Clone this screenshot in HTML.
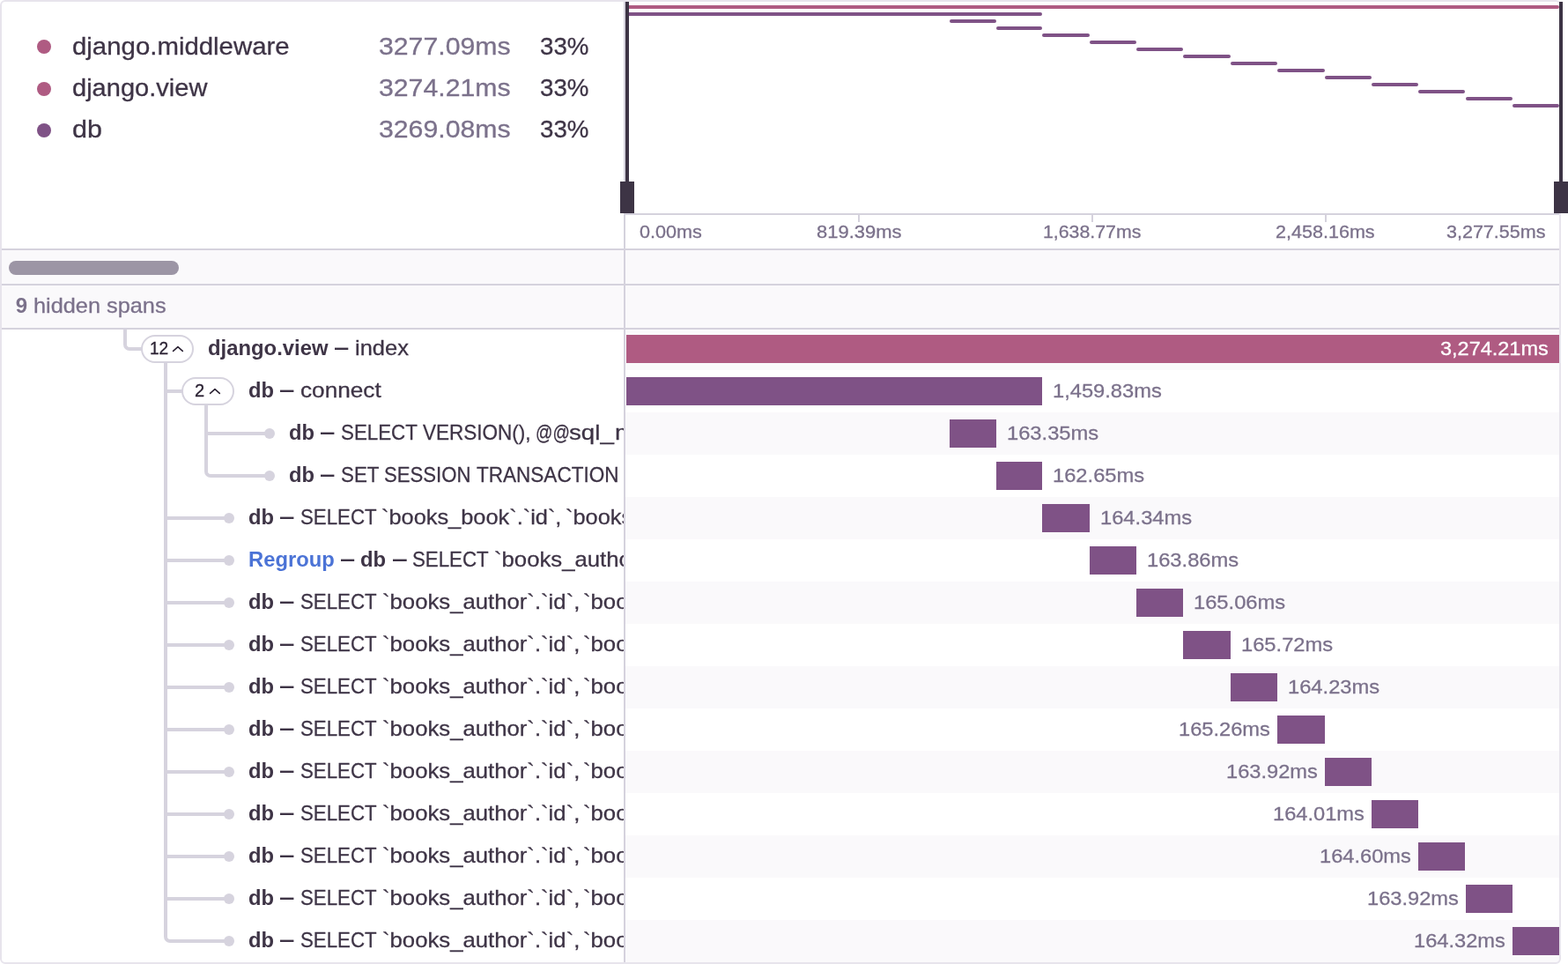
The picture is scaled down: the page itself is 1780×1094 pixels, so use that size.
<!DOCTYPE html>
<html lang="en">
<head>
<meta charset="utf-8">
<title>Trace view</title>
<style>
*{box-sizing:border-box}
html,body{margin:0;padding:0;background:#fff}
body{width:1780px;height:1094px;overflow:hidden;position:relative;font-family:'Liberation Sans', sans-serif;color:#3e3446;-webkit-font-smoothing:antialiased}
.trace{position:absolute;left:0;top:0;width:1772px;height:1094px;background:#fff;border-radius:6px}
.frame{position:absolute;left:0;top:0;width:1772px;height:1094px;border:2px solid #e7e4ec;border-radius:6px;pointer-events:none;z-index:5}
.t{position:absolute;white-space:pre;font-weight:400;display:block;transform-origin:0 50%;-webkit-text-stroke:0.3px currentColor}
strong.t{font-weight:700;-webkit-text-stroke:0}
.abs{position:absolute}
.legend{position:absolute;left:2px;top:2px;width:706px;height:280px;overflow:hidden}
.dot{position:absolute;width:16px;height:16px;border-radius:50%}
.minimap{position:absolute;left:710px;top:2px;width:1060px;height:240px;background:#fff}
.mbar{position:absolute;height:4px;border-radius:2px}
.hline{position:absolute;height:2px;background:#d5d2dd}
.vline{position:absolute;width:2px;background:#d5d2dd}
.handle-line{position:absolute;width:4px;background:#3d3445}
.handle{position:absolute;width:16px;height:36px;background:#3d3445}
.tick{position:absolute;width:2px;height:8px;top:244px;background:#d5d2dd}
.band{position:absolute;left:2px;width:1768px;background:#faf9fb}
.thumb{position:absolute;left:10px;top:296px;width:193px;height:16px;border-radius:8px;background:#9c95a5}
.row{position:absolute;left:2px;width:1768px;height:48px}
.row .l{position:absolute;left:0;top:0;width:706px;height:48px;overflow:hidden;background:#fff}
.row .r{position:absolute;left:708px;top:0;width:1060px;height:48px;overflow:hidden}
.row.odd .r{background:#faf9fb}
.bar{position:absolute;top:8px;height:32px}
.tree{position:absolute;background:#d6d3de}
.conn{position:absolute;border:0 solid #d6d3de}
.node{position:absolute;width:12px;height:12px;border-radius:50%;background:#d6d3de}
.pill{position:absolute;width:60px;height:32px;border:2px solid #d6d3de;border-radius:16px;background:#fff}
.pill svg{position:absolute;left:0;top:0}
</style>
</head>
<body>
<div class="trace">
<div class="legend">
<div class="lrow"><span class="dot" style="left:40px;top:43.0px;background:#af5b82"></span>
<span class="t" style="left:79.95px;top:37.00px;font-size:28px;line-height:28px;color:#3e3446;transform:scaleX(1.0494);">django.middleware</span> <span class="t" style="left:428.42px;top:37.00px;font-size:28px;line-height:28px;color:#7b718b;transform:scaleX(1.0796);">3277.09ms</span> <span class="t" style="left:610.91px;top:37.00px;font-size:28px;line-height:28px;color:#3e3446;transform:scaleX(0.9889);">33%</span></div>
<div class="lrow"><span class="dot" style="left:40px;top:91.0px;background:#af5b82"></span>
<span class="t" style="left:79.96px;top:84.00px;font-size:28px;line-height:28px;color:#3e3446;transform:scaleX(1.0374);">django.view</span> <span class="t" style="left:428.42px;top:84.00px;font-size:28px;line-height:28px;color:#7b718b;transform:scaleX(1.0796);">3274.21ms</span> <span class="t" style="left:610.91px;top:84.00px;font-size:28px;line-height:28px;color:#3e3446;transform:scaleX(0.9889);">33%</span></div>
<div class="lrow"><span class="dot" style="left:40px;top:138.0px;background:#7f5286"></span>
<span class="t" style="left:79.91px;top:131.00px;font-size:28px;line-height:28px;color:#3e3446;transform:scaleX(1.0897);">db</span> <span class="t" style="left:428.42px;top:131.00px;font-size:28px;line-height:28px;color:#7b718b;transform:scaleX(1.0796);">3269.08ms</span> <span class="t" style="left:610.91px;top:131.00px;font-size:28px;line-height:28px;color:#3e3446;transform:scaleX(0.9889);">33%</span></div>
</div>
<div class="minimap">
<span class="mbar" style="left:1px;width:1059px;top:4px;background:#af5b82"></span>
<span class="mbar" style="left:1px;width:472px;top:12px;background:#7f5286"></span>
<span class="mbar" style="left:368px;width:53px;top:20px;background:#7f5286"></span>
<span class="mbar" style="left:421px;width:52px;top:28px;background:#7f5286"></span>
<span class="mbar" style="left:473px;width:54px;top:36px;background:#7f5286"></span>
<span class="mbar" style="left:527px;width:53px;top:44px;background:#7f5286"></span>
<span class="mbar" style="left:580px;width:53px;top:52px;background:#7f5286"></span>
<span class="mbar" style="left:633px;width:54px;top:60px;background:#7f5286"></span>
<span class="mbar" style="left:687px;width:53px;top:68px;background:#7f5286"></span>
<span class="mbar" style="left:740px;width:54px;top:76px;background:#7f5286"></span>
<span class="mbar" style="left:794px;width:53px;top:84px;background:#7f5286"></span>
<span class="mbar" style="left:847px;width:53px;top:92px;background:#7f5286"></span>
<span class="mbar" style="left:900px;width:53px;top:100px;background:#7f5286"></span>
<span class="mbar" style="left:954px;width:53px;top:108px;background:#7f5286"></span>
<span class="mbar" style="left:1007px;width:53px;top:116px;background:#7f5286"></span>
</div>
<div class="hline" style="left:710px;top:242px;width:1060px"></div>
<span class="tick" style="left:974px"></span>
<span class="tick" style="left:1239px"></span>
<span class="tick" style="left:1504px"></span>
<div class="axis"><span class="t" style="left:725.62px;top:253.00px;font-size:20px;line-height:20px;color:#7b718b;transform:scaleX(1.0797);">0.00ms</span> <span class="t" style="left:927.20px;top:253.00px;font-size:20px;line-height:20px;color:#7b718b;transform:scaleX(1.0977);">819.39ms</span> <span class="t" style="left:1184.43px;top:253.00px;font-size:20px;line-height:20px;color:#7b718b;transform:scaleX(1.0650);">1,638.77ms</span> <span class="t" style="left:1448.42px;top:253.00px;font-size:20px;line-height:20px;color:#7b718b;transform:scaleX(1.0777);">2,458.16ms</span> <span class="t" style="left:1641.92px;top:253.00px;font-size:20px;line-height:20px;color:#7b718b;transform:scaleX(1.0757);">3,277.55ms</span></div>
<div class="band" style="top:284px;height:88px"></div>
<div class="hline" style="left:2px;top:282px;width:1768px"></div>
<div class="hline" style="left:2px;top:322px;width:1768px"></div>
<div class="thumb"></div>
<div class="hidden"><strong class="t" style="left:17.70px;top:335.00px;font-size:24px;line-height:24px;font-weight:700;color:#7b718b;">9</strong> <span class="t" style="left:37.59px;top:335.00px;font-size:24px;line-height:24px;color:#7b718b;transform:scaleX(1.0543);">hidden spans</span></div>
<div class="row odd" style="top:372px"><div class="l"><span class="conn" style="left:138px;top:0;width:22px;height:26px;border-left-width:4px;border-bottom-width:4px;border-bottom-left-radius:7px"></span>
<span class="tree" style="left:184px;top:40px;width:4px;height:8px"></span>
<span class="pill" style="left:158px;top:8px"><svg width="60" height="32" viewBox="0 0 60 32" style="left:-2px;top:-2px"><polyline points="36.6,18.4 41.95,13.7 47.3,18.4" fill="none" stroke="#2b2233" stroke-width="1.6" stroke-linecap="round" stroke-linejoin="round"/></svg></span>
<span class="t" style="left:168.14px;top:13.00px;font-size:20px;line-height:20px;color:#2b2233;transform:scaleX(0.9550);">12</span>
<span class="title"><strong class="t" style="left:233.81px;top:11.00px;font-size:24px;line-height:24px;font-weight:700;color:#3e3446;transform:scaleX(0.9934);">django.view</strong> <strong class="t" style="left:378.40px;top:10.00px;font-size:24px;line-height:24px;font-weight:700;color:#3e3446;transform:scaleX(0.6375);">—</strong> <span class="t" style="left:400.74px;top:11.00px;font-size:24px;line-height:24px;color:#3e3446;transform:scaleX(1.0607);">index</span></span></div>
<div class="r"><span class="bar" style="left:1px;width:1059px;background:#af5b82"></span>
<span class="t" style="left:924.93px;top:13.00px;font-size:22px;line-height:22px;color:#ffffff;transform:scaleX(1.0673);">3,274.21ms</span></div></div>
<div class="row even" style="top:420px"><div class="l"><span class="tree" style="left:184px;top:0;width:4px;height:48px"></span>
<span class="tree" style="left:188px;top:22px;width:17px;height:4px"></span>
<span class="tree" style="left:230px;top:40px;width:4px;height:8px"></span>
<span class="pill" style="left:204px;top:8px"><svg width="60" height="32" viewBox="0 0 60 32" style="left:-2px;top:-2px"><polyline points="32.6,18.4 37.95,13.7 43.3,18.4" fill="none" stroke="#2b2233" stroke-width="1.6" stroke-linecap="round" stroke-linejoin="round"/></svg></span>
<span class="t" style="left:218.90px;top:13.00px;font-size:20px;line-height:20px;color:#2b2233;">2</span>
<span class="title"><strong class="t" style="left:279.71px;top:11.00px;font-size:24px;line-height:24px;font-weight:700;color:#3e3446;transform:scaleX(0.9893);">db</strong> <strong class="t" style="left:316.30px;top:10.00px;font-size:24px;line-height:24px;font-weight:700;color:#3e3446;transform:scaleX(0.6417);">—</strong> <span class="t" style="left:338.91px;top:11.00px;font-size:24px;line-height:24px;color:#3e3446;transform:scaleX(1.0904);">connect</span></span></div>
<div class="r"><span class="bar" style="left:1px;width:472px;background:#7f5286"></span>
<span class="t" style="left:485.35px;top:13.00px;font-size:22px;line-height:22px;color:#7b718b;transform:scaleX(1.0768);">1,459.83ms</span></div></div>
<div class="row odd" style="top:468px"><div class="l"><span class="tree" style="left:184px;top:0;width:4px;height:48px"></span>
<span class="tree" style="left:230px;top:0;width:4px;height:48px"></span>
<span class="tree" style="left:234px;top:22px;width:66px;height:4px"></span>
<span class="node" style="left:298px;top:18px"></span>
<span class="title"><strong class="t" style="left:325.81px;top:11.00px;font-size:24px;line-height:24px;font-weight:700;color:#3e3446;transform:scaleX(0.9893);">db</strong> <strong class="t" style="left:362.40px;top:10.00px;font-size:24px;line-height:24px;font-weight:700;color:#3e3446;transform:scaleX(0.6417);">—</strong> <span class="t" style="left:384.77px;top:11.00px;font-size:24px;line-height:24px;color:#3e3446;transform:scaleX(0.9304);">SELECT</span> <span class="t" style="left:478.40px;top:11.00px;font-size:24px;line-height:24px;color:#3e3446;transform:scaleX(0.9380);">VERSION(),</span> <span class="t" style="left:606.01px;top:11.00px;font-size:24px;line-height:24px;color:#3e3446;transform:scaleX(0.7956);">@@</span>
<span class="t" style="left:643.65px;top:11.00px;font-size:24px;line-height:24px;color:#3e3446;transform:scaleX(1.1535);">sql_</span>
<span class="t" style="left:696.29px;top:11.00px;font-size:24px;line-height:24px;color:#3e3446;transform:scaleX(1.1535);">mode</span></span></div>
<div class="r"><span class="bar" style="left:368px;width:53px;background:#7f5286"></span>
<span class="t" style="left:433.34px;top:13.00px;font-size:22px;line-height:22px;color:#7b718b;transform:scaleX(1.0777);">163.35ms</span></div></div>
<div class="row even" style="top:516px"><div class="l"><span class="tree" style="left:184px;top:0;width:4px;height:48px"></span>
<span class="conn" style="left:230px;top:0;width:70px;height:26px;border-left-width:4px;border-bottom-width:4px;border-bottom-left-radius:7px"></span>
<span class="node" style="left:298px;top:18px"></span>
<span class="title"><strong class="t" style="left:325.81px;top:11.00px;font-size:24px;line-height:24px;font-weight:700;color:#3e3446;transform:scaleX(0.9893);">db</strong> <strong class="t" style="left:362.40px;top:10.00px;font-size:24px;line-height:24px;font-weight:700;color:#3e3446;transform:scaleX(0.6417);">—</strong> <span class="t" style="left:384.77px;top:11.00px;font-size:24px;line-height:24px;color:#3e3446;transform:scaleX(0.9311);">SET</span> <span class="t" style="left:434.08px;top:11.00px;font-size:24px;line-height:24px;color:#3e3446;transform:scaleX(0.9231);">SESSION</span> <span class="t" style="left:539.20px;top:11.00px;font-size:24px;line-height:24px;color:#3e3446;transform:scaleX(0.9388);">TRANSACTION</span> <span class="t" style="left:705.62px;top:11.00px;font-size:24px;line-height:24px;color:#3e3446;transform:scaleX(0.9388);">ISOLATION</span></span></div>
<div class="r"><span class="bar" style="left:421px;width:52px;background:#7f5286"></span>
<span class="t" style="left:485.34px;top:13.00px;font-size:22px;line-height:22px;color:#7b718b;transform:scaleX(1.0777);">162.65ms</span></div></div>
<div class="row odd" style="top:564px"><div class="l"><span class="tree" style="left:184px;top:0;width:4px;height:48px"></span>
<span class="tree" style="left:188px;top:22px;width:66px;height:4px"></span>
<span class="node" style="left:252px;top:18px"></span>
<span class="title"><strong class="t" style="left:279.71px;top:11.00px;font-size:24px;line-height:24px;font-weight:700;color:#3e3446;transform:scaleX(0.9893);">db</strong> <strong class="t" style="left:316.30px;top:10.00px;font-size:24px;line-height:24px;font-weight:700;color:#3e3446;transform:scaleX(0.6417);">—</strong> <span class="t" style="left:338.57px;top:11.00px;font-size:24px;line-height:24px;color:#3e3446;transform:scaleX(0.9272);">SELECT</span> <span class="t" style="left:431.49px;top:11.00px;font-size:24px;line-height:24px;color:#3e3446;transform:scaleX(1.0566);">`books_book`.`id`,</span> <span class="t" style="left:639.89px;top:11.00px;font-size:24px;line-height:24px;color:#3e3446;transform:scaleX(1.0566);">`books_book`.`title`</span></span></div>
<div class="r"><span class="bar" style="left:473px;width:54px;background:#7f5286"></span>
<span class="t" style="left:539.34px;top:13.00px;font-size:22px;line-height:22px;color:#7b718b;transform:scaleX(1.0777);">164.34ms</span></div></div>
<div class="row even" style="top:612px"><div class="l"><span class="tree" style="left:184px;top:0;width:4px;height:48px"></span>
<span class="tree" style="left:188px;top:22px;width:66px;height:4px"></span>
<span class="node" style="left:252px;top:18px"></span>
<span class="title"><strong class="t" style="left:280.11px;top:11.00px;font-size:24px;line-height:24px;font-weight:700;color:#4b73d6;transform:scaleX(0.9907);">Regroup</strong> <strong class="t" style="left:384.80px;top:10.00px;font-size:24px;line-height:24px;font-weight:700;color:#3e3446;transform:scaleX(0.6333);">—</strong> <strong class="t" style="left:407.31px;top:11.00px;font-size:24px;line-height:24px;font-weight:700;color:#3e3446;transform:scaleX(0.9929);">db</strong> <strong class="t" style="left:443.70px;top:10.00px;font-size:24px;line-height:24px;font-weight:700;color:#3e3446;transform:scaleX(0.6542);">—</strong> <span class="t" style="left:466.07px;top:11.00px;font-size:24px;line-height:24px;color:#3e3446;transform:scaleX(0.9283);">SELECT</span> <span class="t" style="left:559.16px;top:11.00px;font-size:24px;line-height:24px;color:#3e3446;transform:scaleX(1.0712);">`books_author`.`id`,</span></span></div>
<div class="r"><span class="bar" style="left:527px;width:53px;background:#7f5286"></span>
<span class="t" style="left:592.34px;top:13.00px;font-size:22px;line-height:22px;color:#7b718b;transform:scaleX(1.0777);">163.86ms</span></div></div>
<div class="row odd" style="top:660px"><div class="l"><span class="tree" style="left:184px;top:0;width:4px;height:48px"></span>
<span class="tree" style="left:188px;top:22px;width:66px;height:4px"></span>
<span class="node" style="left:252px;top:18px"></span>
<span class="title"><strong class="t" style="left:279.71px;top:11.00px;font-size:24px;line-height:24px;font-weight:700;color:#3e3446;transform:scaleX(0.9893);">db</strong> <strong class="t" style="left:316.30px;top:10.00px;font-size:24px;line-height:24px;font-weight:700;color:#3e3446;transform:scaleX(0.6417);">—</strong> <span class="t" style="left:338.57px;top:11.00px;font-size:24px;line-height:24px;color:#3e3446;transform:scaleX(0.9272);">SELECT</span> <span class="t" style="left:431.86px;top:11.00px;font-size:24px;line-height:24px;color:#3e3446;transform:scaleX(1.0712);">`books_author`.`id`,</span> <span class="t" style="left:660.26px;top:11.00px;font-size:24px;line-height:24px;color:#3e3446;transform:scaleX(1.0712);">`books_author`.`name`</span></span></div>
<div class="r"><span class="bar" style="left:580px;width:53px;background:#7f5286"></span>
<span class="t" style="left:645.34px;top:13.00px;font-size:22px;line-height:22px;color:#7b718b;transform:scaleX(1.0777);">165.06ms</span></div></div>
<div class="row even" style="top:708px"><div class="l"><span class="tree" style="left:184px;top:0;width:4px;height:48px"></span>
<span class="tree" style="left:188px;top:22px;width:66px;height:4px"></span>
<span class="node" style="left:252px;top:18px"></span>
<span class="title"><strong class="t" style="left:279.71px;top:11.00px;font-size:24px;line-height:24px;font-weight:700;color:#3e3446;transform:scaleX(0.9893);">db</strong> <strong class="t" style="left:316.30px;top:10.00px;font-size:24px;line-height:24px;font-weight:700;color:#3e3446;transform:scaleX(0.6417);">—</strong> <span class="t" style="left:338.57px;top:11.00px;font-size:24px;line-height:24px;color:#3e3446;transform:scaleX(0.9272);">SELECT</span> <span class="t" style="left:431.86px;top:11.00px;font-size:24px;line-height:24px;color:#3e3446;transform:scaleX(1.0712);">`books_author`.`id`,</span> <span class="t" style="left:660.26px;top:11.00px;font-size:24px;line-height:24px;color:#3e3446;transform:scaleX(1.0712);">`books_author`.`name`</span></span></div>
<div class="r"><span class="bar" style="left:633px;width:54px;background:#7f5286"></span>
<span class="t" style="left:699.34px;top:13.00px;font-size:22px;line-height:22px;color:#7b718b;transform:scaleX(1.0777);">165.72ms</span></div></div>
<div class="row odd" style="top:756px"><div class="l"><span class="tree" style="left:184px;top:0;width:4px;height:48px"></span>
<span class="tree" style="left:188px;top:22px;width:66px;height:4px"></span>
<span class="node" style="left:252px;top:18px"></span>
<span class="title"><strong class="t" style="left:279.71px;top:11.00px;font-size:24px;line-height:24px;font-weight:700;color:#3e3446;transform:scaleX(0.9893);">db</strong> <strong class="t" style="left:316.30px;top:10.00px;font-size:24px;line-height:24px;font-weight:700;color:#3e3446;transform:scaleX(0.6417);">—</strong> <span class="t" style="left:338.57px;top:11.00px;font-size:24px;line-height:24px;color:#3e3446;transform:scaleX(0.9272);">SELECT</span> <span class="t" style="left:431.86px;top:11.00px;font-size:24px;line-height:24px;color:#3e3446;transform:scaleX(1.0712);">`books_author`.`id`,</span> <span class="t" style="left:660.26px;top:11.00px;font-size:24px;line-height:24px;color:#3e3446;transform:scaleX(1.0712);">`books_author`.`name`</span></span></div>
<div class="r"><span class="bar" style="left:687px;width:53px;background:#7f5286"></span>
<span class="t" style="left:752.34px;top:13.00px;font-size:22px;line-height:22px;color:#7b718b;transform:scaleX(1.0777);">164.23ms</span></div></div>
<div class="row even" style="top:804px"><div class="l"><span class="tree" style="left:184px;top:0;width:4px;height:48px"></span>
<span class="tree" style="left:188px;top:22px;width:66px;height:4px"></span>
<span class="node" style="left:252px;top:18px"></span>
<span class="title"><strong class="t" style="left:279.71px;top:11.00px;font-size:24px;line-height:24px;font-weight:700;color:#3e3446;transform:scaleX(0.9893);">db</strong> <strong class="t" style="left:316.30px;top:10.00px;font-size:24px;line-height:24px;font-weight:700;color:#3e3446;transform:scaleX(0.6417);">—</strong> <span class="t" style="left:338.57px;top:11.00px;font-size:24px;line-height:24px;color:#3e3446;transform:scaleX(0.9272);">SELECT</span> <span class="t" style="left:431.86px;top:11.00px;font-size:24px;line-height:24px;color:#3e3446;transform:scaleX(1.0712);">`books_author`.`id`,</span> <span class="t" style="left:660.26px;top:11.00px;font-size:24px;line-height:24px;color:#3e3446;transform:scaleX(1.0712);">`books_author`.`name`</span></span></div>
<div class="r"><span class="bar" style="left:740px;width:54px;background:#7f5286"></span>
<span class="t" style="left:627.55px;top:13.00px;font-size:22px;line-height:22px;color:#7b718b;transform:scaleX(1.0755);">165.26ms</span></div></div>
<div class="row odd" style="top:852px"><div class="l"><span class="tree" style="left:184px;top:0;width:4px;height:48px"></span>
<span class="tree" style="left:188px;top:22px;width:66px;height:4px"></span>
<span class="node" style="left:252px;top:18px"></span>
<span class="title"><strong class="t" style="left:279.71px;top:11.00px;font-size:24px;line-height:24px;font-weight:700;color:#3e3446;transform:scaleX(0.9893);">db</strong> <strong class="t" style="left:316.30px;top:10.00px;font-size:24px;line-height:24px;font-weight:700;color:#3e3446;transform:scaleX(0.6417);">—</strong> <span class="t" style="left:338.57px;top:11.00px;font-size:24px;line-height:24px;color:#3e3446;transform:scaleX(0.9272);">SELECT</span> <span class="t" style="left:431.86px;top:11.00px;font-size:24px;line-height:24px;color:#3e3446;transform:scaleX(1.0712);">`books_author`.`id`,</span> <span class="t" style="left:660.26px;top:11.00px;font-size:24px;line-height:24px;color:#3e3446;transform:scaleX(1.0712);">`books_author`.`name`</span></span></div>
<div class="r"><span class="bar" style="left:794px;width:53px;background:#7f5286"></span>
<span class="t" style="left:681.55px;top:13.00px;font-size:22px;line-height:22px;color:#7b718b;transform:scaleX(1.0755);">163.92ms</span></div></div>
<div class="row even" style="top:900px"><div class="l"><span class="tree" style="left:184px;top:0;width:4px;height:48px"></span>
<span class="tree" style="left:188px;top:22px;width:66px;height:4px"></span>
<span class="node" style="left:252px;top:18px"></span>
<span class="title"><strong class="t" style="left:279.71px;top:11.00px;font-size:24px;line-height:24px;font-weight:700;color:#3e3446;transform:scaleX(0.9893);">db</strong> <strong class="t" style="left:316.30px;top:10.00px;font-size:24px;line-height:24px;font-weight:700;color:#3e3446;transform:scaleX(0.6417);">—</strong> <span class="t" style="left:338.57px;top:11.00px;font-size:24px;line-height:24px;color:#3e3446;transform:scaleX(0.9272);">SELECT</span> <span class="t" style="left:431.86px;top:11.00px;font-size:24px;line-height:24px;color:#3e3446;transform:scaleX(1.0712);">`books_author`.`id`,</span> <span class="t" style="left:660.26px;top:11.00px;font-size:24px;line-height:24px;color:#3e3446;transform:scaleX(1.0712);">`books_author`.`name`</span></span></div>
<div class="r"><span class="bar" style="left:847px;width:53px;background:#7f5286"></span>
<span class="t" style="left:734.55px;top:13.00px;font-size:22px;line-height:22px;color:#7b718b;transform:scaleX(1.0755);">164.01ms</span></div></div>
<div class="row odd" style="top:948px"><div class="l"><span class="tree" style="left:184px;top:0;width:4px;height:48px"></span>
<span class="tree" style="left:188px;top:22px;width:66px;height:4px"></span>
<span class="node" style="left:252px;top:18px"></span>
<span class="title"><strong class="t" style="left:279.71px;top:11.00px;font-size:24px;line-height:24px;font-weight:700;color:#3e3446;transform:scaleX(0.9893);">db</strong> <strong class="t" style="left:316.30px;top:10.00px;font-size:24px;line-height:24px;font-weight:700;color:#3e3446;transform:scaleX(0.6417);">—</strong> <span class="t" style="left:338.57px;top:11.00px;font-size:24px;line-height:24px;color:#3e3446;transform:scaleX(0.9272);">SELECT</span> <span class="t" style="left:431.86px;top:11.00px;font-size:24px;line-height:24px;color:#3e3446;transform:scaleX(1.0712);">`books_author`.`id`,</span> <span class="t" style="left:660.26px;top:11.00px;font-size:24px;line-height:24px;color:#3e3446;transform:scaleX(1.0712);">`books_author`.`name`</span></span></div>
<div class="r"><span class="bar" style="left:900px;width:53px;background:#7f5286"></span>
<span class="t" style="left:787.55px;top:13.00px;font-size:22px;line-height:22px;color:#7b718b;transform:scaleX(1.0755);">164.60ms</span></div></div>
<div class="row even" style="top:996px"><div class="l"><span class="tree" style="left:184px;top:0;width:4px;height:48px"></span>
<span class="tree" style="left:188px;top:22px;width:66px;height:4px"></span>
<span class="node" style="left:252px;top:18px"></span>
<span class="title"><strong class="t" style="left:279.71px;top:11.00px;font-size:24px;line-height:24px;font-weight:700;color:#3e3446;transform:scaleX(0.9893);">db</strong> <strong class="t" style="left:316.30px;top:10.00px;font-size:24px;line-height:24px;font-weight:700;color:#3e3446;transform:scaleX(0.6417);">—</strong> <span class="t" style="left:338.57px;top:11.00px;font-size:24px;line-height:24px;color:#3e3446;transform:scaleX(0.9272);">SELECT</span> <span class="t" style="left:431.86px;top:11.00px;font-size:24px;line-height:24px;color:#3e3446;transform:scaleX(1.0712);">`books_author`.`id`,</span> <span class="t" style="left:660.26px;top:11.00px;font-size:24px;line-height:24px;color:#3e3446;transform:scaleX(1.0712);">`books_author`.`name`</span></span></div>
<div class="r"><span class="bar" style="left:954px;width:53px;background:#7f5286"></span>
<span class="t" style="left:841.55px;top:13.00px;font-size:22px;line-height:22px;color:#7b718b;transform:scaleX(1.0755);">163.92ms</span></div></div>
<div class="row odd" style="top:1044px"><div class="l"><span class="conn" style="left:184px;top:0;width:70px;height:26px;border-left-width:4px;border-bottom-width:4px;border-bottom-left-radius:7px"></span>
<span class="node" style="left:252px;top:18px"></span>
<span class="title"><strong class="t" style="left:279.71px;top:11.00px;font-size:24px;line-height:24px;font-weight:700;color:#3e3446;transform:scaleX(0.9893);">db</strong> <strong class="t" style="left:316.30px;top:10.00px;font-size:24px;line-height:24px;font-weight:700;color:#3e3446;transform:scaleX(0.6417);">—</strong> <span class="t" style="left:338.57px;top:11.00px;font-size:24px;line-height:24px;color:#3e3446;transform:scaleX(0.9272);">SELECT</span> <span class="t" style="left:431.86px;top:11.00px;font-size:24px;line-height:24px;color:#3e3446;transform:scaleX(1.0712);">`books_author`.`id`,</span> <span class="t" style="left:660.26px;top:11.00px;font-size:24px;line-height:24px;color:#3e3446;transform:scaleX(1.0712);">`books_author`.`name`</span></span></div>
<div class="r"><span class="bar" style="left:1007px;width:53px;background:#7f5286"></span>
<span class="t" style="left:894.55px;top:13.00px;font-size:22px;line-height:22px;color:#7b718b;transform:scaleX(1.0755);">164.32ms</span></div></div>
<div class="hline" style="left:2px;top:372px;width:1768px;z-index:3"></div>
<div class="vline" style="left:708px;top:2px;height:1090px;z-index:3"></div>
<div class="frame"></div>
<div class="handle-line" style="left:710px;top:2px;height:206px;z-index:6"></div>
<div class="handle-line" style="left:1770px;top:2px;height:206px;z-index:6"></div>
<div class="handle" style="left:704px;top:206px;z-index:6"></div>
<div class="handle" style="left:1764px;top:206px;z-index:6"></div>
</div>
</body>
</html>
